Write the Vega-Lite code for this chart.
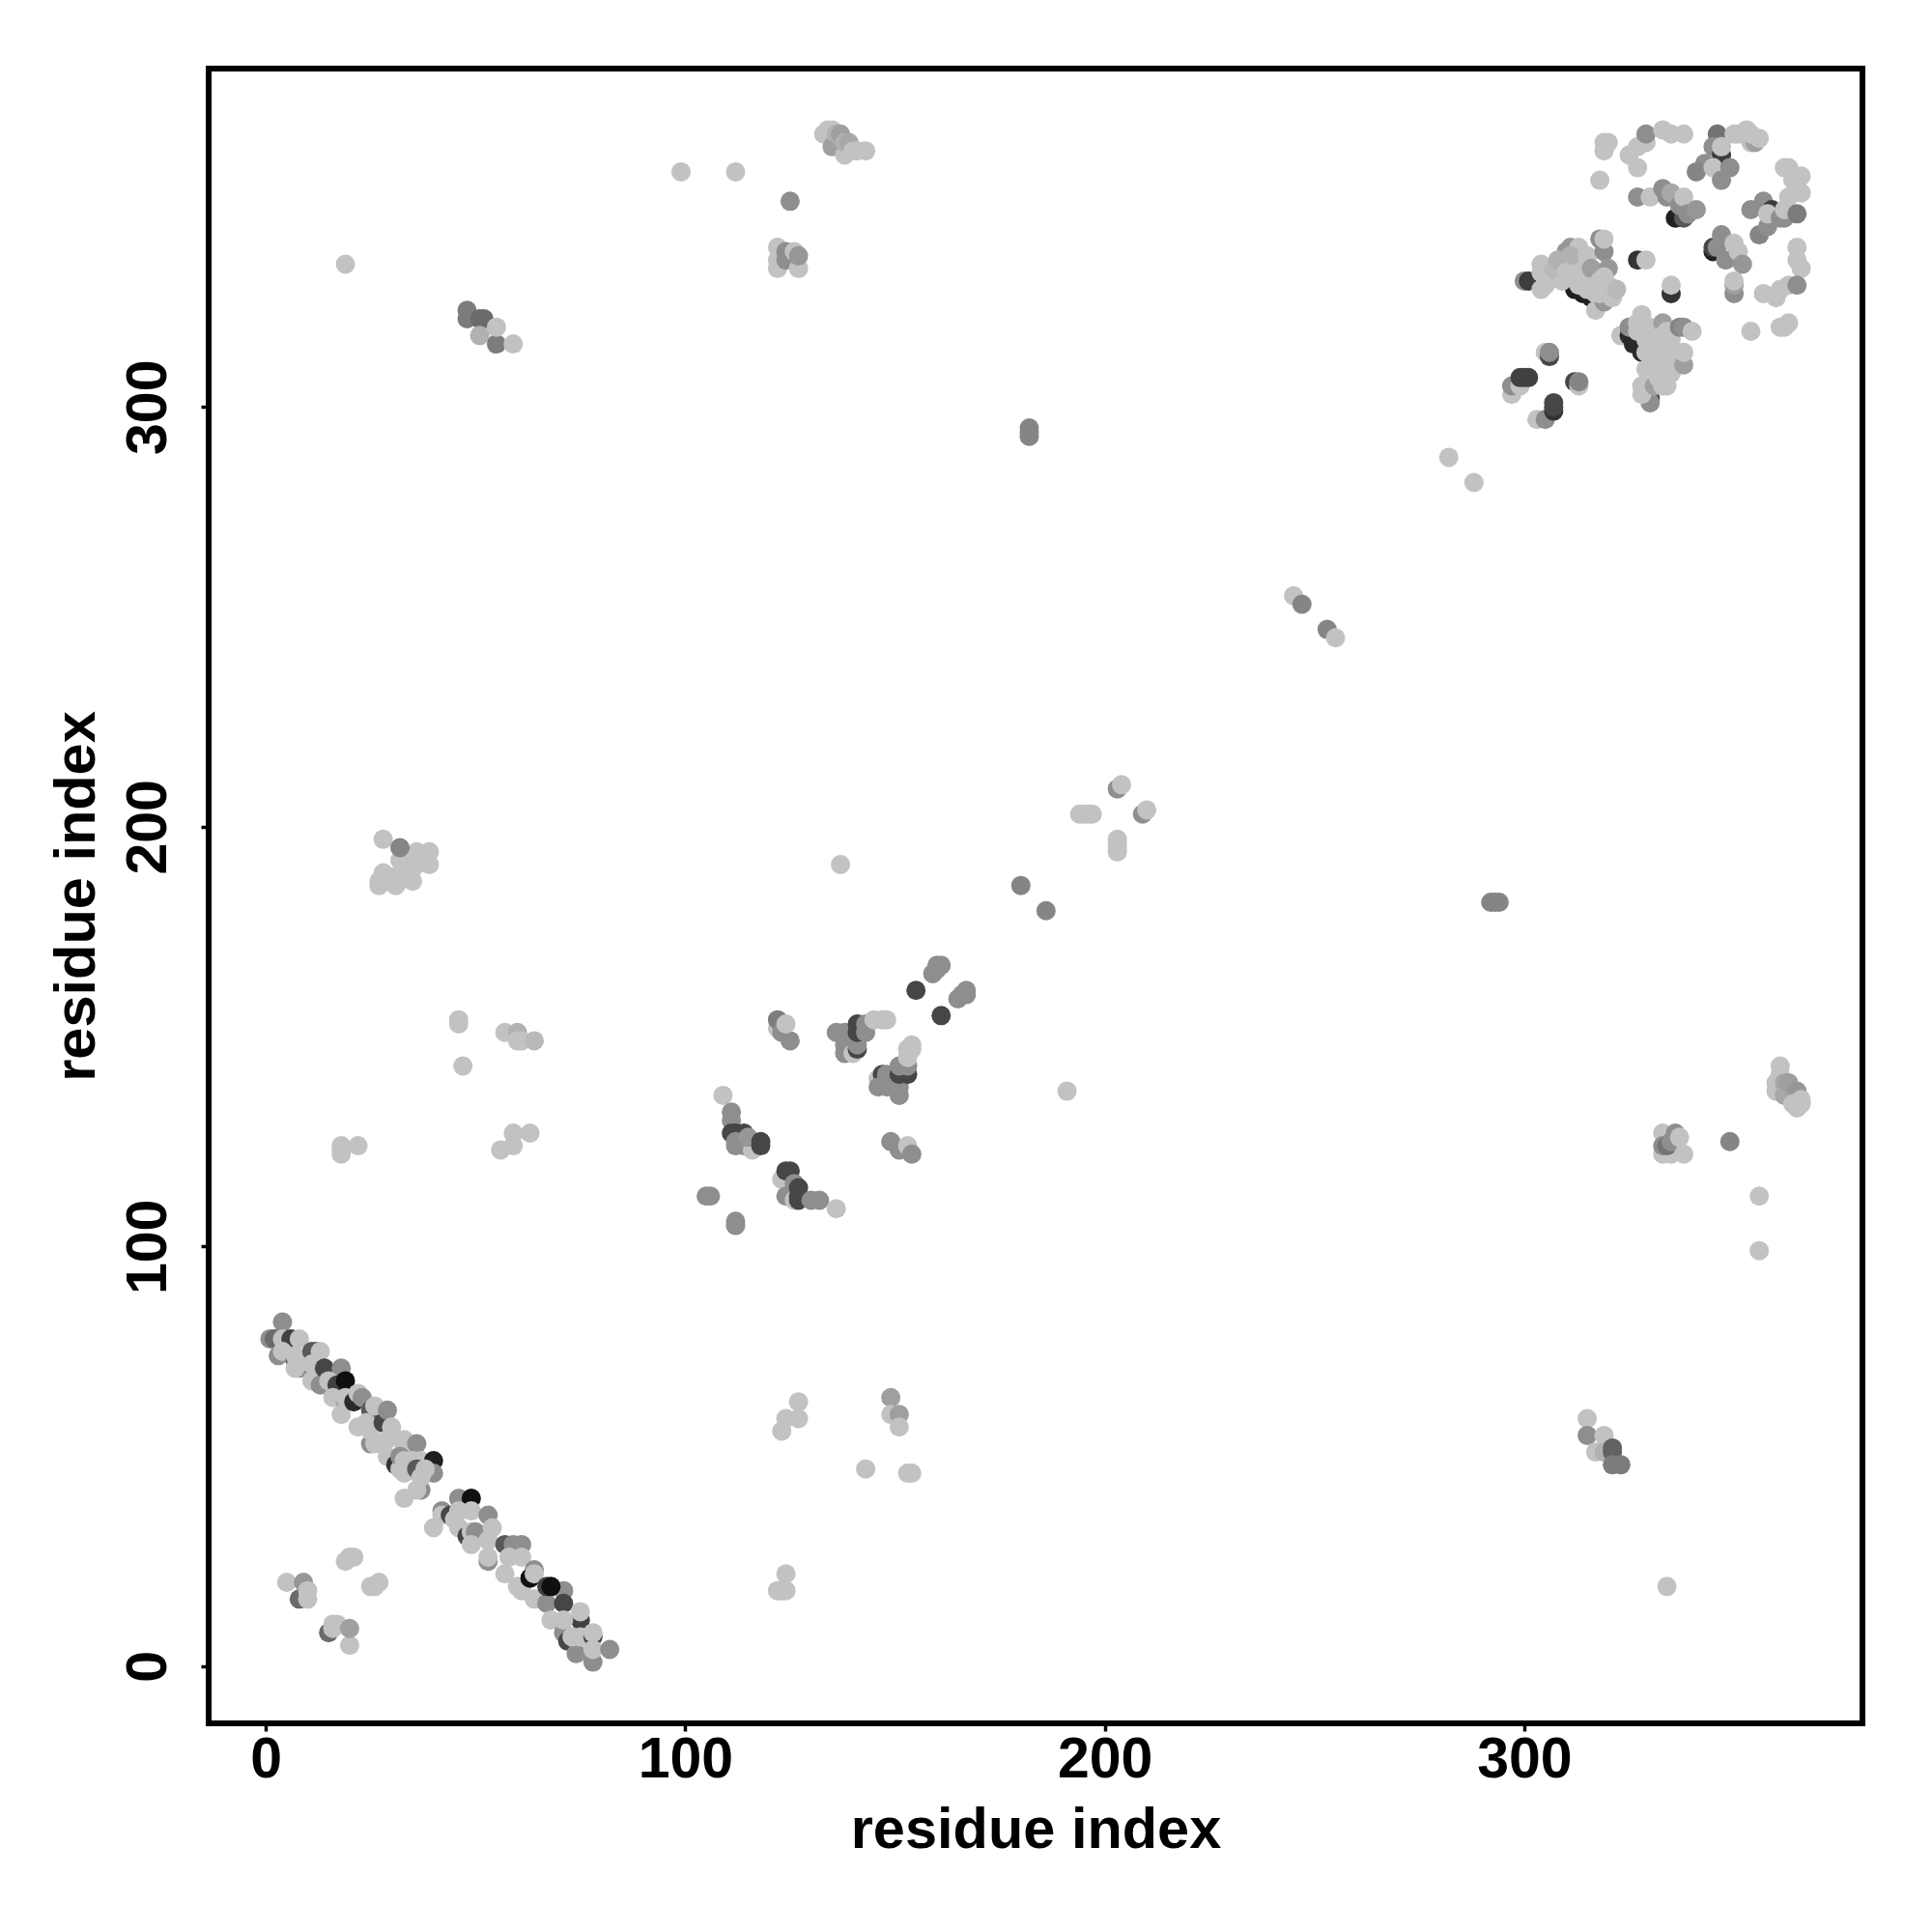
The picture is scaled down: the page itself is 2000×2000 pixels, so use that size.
{"$schema":"https://vega.github.io/schema/vega-lite/v6.json","width":1712,"height":1713,"autosize":"none","padding":{"left":216,"top":71,"right":72,"bottom":216},"background":"white","view":{"stroke":"black","strokeWidth":6,"fill":"white"},
"data":{"values":[
{"x":4,"y":82,"v":0.7},{"x":1,"y":78,"v":0.7},{"x":2,"y":78,"v":0.5},{"x":3,"y":74,"v":0.7},{"x":4,"y":78,"v":1},{"x":6,"y":78,"v":0.27},{"x":8,"y":78,"v":1},{"x":4,"y":75,"v":1},{"x":7,"y":73,"v":0.4},{"x":8,"y":71,"v":0.7},{"x":7,"y":71,"v":1},{"x":7,"y":74,"v":1},{"x":11,"y":75,"v":0.4},{"x":12,"y":75,"v":0.4},{"x":13,"y":75,"v":1},{"x":11,"y":72,"v":1},{"x":11,"y":68,"v":1},{"x":13,"y":67,"v":0.7},{"x":14,"y":71,"v":0.3},{"x":18,"y":71,"v":0.7},{"x":15,"y":68,"v":1},{"x":17,"y":67,"v":0.27},{"x":19,"y":68,"v":0.03},{"x":16,"y":64,"v":1},{"x":19,"y":63,"v":0.8},{"x":19,"y":64,"v":1},{"x":18,"y":60,"v":1},{"x":21,"y":63,"v":0.15},{"x":22,"y":65,"v":1},{"x":23,"y":64,"v":0.7},{"x":22,"y":57,"v":1},{"x":25,"y":61,"v":0.4},{"x":26,"y":62,"v":1},{"x":24,"y":58,"v":1},{"x":25,"y":53,"v":0.7},{"x":26,"y":53,"v":1},{"x":25,"y":56,"v":1},{"x":28,"y":58,"v":0.3},{"x":29,"y":61,"v":0.7},{"x":30,"y":57,"v":1},{"x":29,"y":54,"v":1},{"x":29,"y":50,"v":1},{"x":31,"y":48,"v":0.2},{"x":32,"y":47,"v":1},{"x":33,"y":54,"v":1},{"x":33,"y":52,"v":1},{"x":32,"y":50,"v":0.7},{"x":33,"y":49,"v":1},{"x":33,"y":46,"v":1},{"x":36,"y":53,"v":0.7},{"x":35,"y":49,"v":1},{"x":37,"y":49,"v":1},{"x":36,"y":47,"v":0.4},{"x":40,"y":49,"v":0.1},{"x":40,"y":46,"v":0.7},{"x":37,"y":42,"v":0.7},{"x":36,"y":42,"v":1},{"x":37,"y":45,"v":1},{"x":38,"y":47,"v":1},{"x":33,"y":40,"v":1},
{"x":40,"y":33,"v":1},{"x":42,"y":37,"v":0.7},{"x":42,"y":36,"v":1},{"x":44,"y":36,"v":0.3},{"x":45,"y":35,"v":1},{"x":46,"y":40,"v":0.7},{"x":49,"y":40,"v":0.03},{"x":46,"y":33,"v":1},{"x":46,"y":37,"v":1},{"x":48,"y":31,"v":0.3},{"x":49,"y":32,"v":1},{"x":49,"y":37,"v":1},{"x":50,"y":32,"v":0.7},{"x":49,"y":29,"v":1},{"x":53,"y":36,"v":0.7},{"x":53,"y":25,"v":0.7},{"x":54,"y":33,"v":1},{"x":53,"y":26,"v":1},{"x":53,"y":30,"v":1},{"x":57,"y":29,"v":0.4},{"x":59,"y":29,"v":0.7},{"x":61,"y":29,"v":0.7},{"x":57,"y":22,"v":1},{"x":58,"y":26,"v":1},{"x":61,"y":26,"v":1},{"x":60,"y":19,"v":1},{"x":61,"y":18,"v":1},{"x":64,"y":23,"v":0.7},{"x":63,"y":21,"v":0.03},{"x":64,"y":22,"v":1},{"x":64,"y":16,"v":1},{"x":67,"y":15,"v":0.7},{"x":67,"y":19,"v":0.27},{"x":71,"y":18,"v":0.7},{"x":68,"y":19,"v":0.03},{"x":68,"y":11,"v":1},{"x":71,"y":15,"v":0.3},{"x":71,"y":8,"v":0.7},{"x":72,"y":6,"v":0.3},{"x":75,"y":11,"v":0.27},{"x":71,"y":11,"v":1},{"x":75,"y":13,"v":1},{"x":74,"y":3,"v":0.7},{"x":73,"y":7,"v":1},{"x":75,"y":7,"v":1},{"x":78,"y":7,"v":0.3},{"x":78,"y":8,"v":1},{"x":78,"y":1,"v":0.7},{"x":78,"y":4,"v":1},{"x":82,"y":4,"v":0.7},
{"x":5,"y":20,"v":1},{"x":9,"y":20,"v":0.75},{"x":8,"y":16,"v":0.5},{"x":10,"y":16,"v":1},{"x":10,"y":18,"v":1},{"x":19,"y":25,"v":1},{"x":20,"y":26,"v":1},{"x":21,"y":26,"v":1},{"x":25,"y":19,"v":1},{"x":26,"y":19,"v":1},{"x":27,"y":20,"v":1},{"x":15,"y":8,"v":0.5},{"x":16,"y":10,"v":1},{"x":17,"y":10,"v":1},{"x":16,"y":9,"v":1},{"x":20,"y":5,"v":1},{"x":20,"y":9,"v":0.8},
{"x":109,"y":136,"v":1},{"x":111,"y":132,"v":0.7},{"x":111,"y":130,"v":0.7},{"x":111,"y":127,"v":0.3},{"x":112,"y":127,"v":0.3},{"x":114,"y":127,"v":0.3},{"x":112,"y":125,"v":0.7},{"x":112,"y":124,"v":0.7},{"x":114,"y":124,"v":0.7},{"x":116,"y":123,"v":1},{"x":115,"y":126,"v":0.75},{"x":118,"y":125,"v":0.3},{"x":118,"y":124,"v":0.3},
{"x":123,"y":116,"v":1},{"x":124,"y":118,"v":0.3},{"x":125,"y":118,"v":0.3},{"x":124,"y":112,"v":0.7},{"x":126,"y":115,"v":0.7},{"x":126,"y":111,"v":1},{"x":127,"y":114,"v":0.3},{"x":127,"y":112,"v":0.3},{"x":127,"y":111,"v":0.3},{"x":130,"y":111,"v":0.7},{"x":132,"y":111,"v":0.7},{"x":136,"y":109,"v":1},{"x":105,"y":112,"v":0.7},{"x":106,"y":112,"v":0.7},{"x":112,"y":106,"v":0.7},{"x":112,"y":105,"v":0.7},
{"x":122,"y":152,"v":1},{"x":122,"y":154,"v":0.6},{"x":123,"y":151,"v":0.7},{"x":125,"y":149,"v":0.7},{"x":124,"y":153,"v":1},
{"x":136,"y":151,"v":0.7},{"x":138,"y":151,"v":0.7},{"x":138,"y":148,"v":0.7},{"x":138,"y":146,"v":0.7},{"x":140,"y":146,"v":1},{"x":141,"y":147,"v":0.3},{"x":141,"y":148,"v":0.7},{"x":141,"y":153,"v":0.3},{"x":141,"y":151,"v":0.3},{"x":143,"y":153,"v":0.7},{"x":143,"y":151,"v":0.7},{"x":145,"y":154,"v":1},{"x":147,"y":154,"v":1},{"x":148,"y":154,"v":1},
{"x":146,"y":140,"v":1},{"x":147,"y":141,"v":0.3},{"x":146,"y":138,"v":0.7},{"x":148,"y":141,"v":0.7},{"x":148,"y":138,"v":0.7},{"x":151,"y":136,"v":0.7},{"x":151,"y":138,"v":0.7},{"x":151,"y":141,"v":0.3},{"x":153,"y":141,"v":0.3},{"x":151,"y":143,"v":0.7},{"x":153,"y":143,"v":0.7},{"x":153,"y":145,"v":1},{"x":153,"y":147,"v":1},{"x":154,"y":147,"v":1},{"x":154,"y":148,"v":1},
{"x":149,"y":125,"v":0.7},{"x":151,"y":123,"v":0.7},{"x":153,"y":124,"v":1},{"x":154,"y":122,"v":0.7},{"x":155,"y":161,"v":0.3},{"x":161,"y":155,"v":0.3},{"x":159,"y":165,"v":0.7},{"x":160,"y":166,"v":0.7},{"x":160,"y":167,"v":0.7},{"x":161,"y":167,"v":0.7},{"x":165,"y":159,"v":0.7},{"x":166,"y":160,"v":0.7},{"x":167,"y":161,"v":0.7},{"x":167,"y":160,"v":0.7},
{"x":180,"y":186,"v":0.65},{"x":186,"y":180,"v":0.65},{"x":203,"y":209,"v":0.7},{"x":204,"y":210,"v":1},{"x":209,"y":203,"v":0.7},{"x":210,"y":204,"v":1},{"x":194,"y":203,"v":1},{"x":195,"y":203,"v":1},{"x":196,"y":203,"v":1},{"x":197,"y":203,"v":1},{"x":203,"y":197,"v":1},{"x":203,"y":196,"v":1},{"x":203,"y":195,"v":1},{"x":203,"y":194,"v":1},
{"x":28,"y":197,"v":1},{"x":27,"y":186,"v":1},{"x":27,"y":187,"v":1},{"x":28,"y":189,"v":1},{"x":31,"y":186,"v":1},{"x":31,"y":188,"v":1},{"x":30,"y":188,"v":1},{"x":33,"y":189,"v":1},{"x":32,"y":192,"v":1},{"x":35,"y":187,"v":1},{"x":35,"y":190,"v":1},{"x":36,"y":191,"v":1},{"x":36,"y":194,"v":1},{"x":39,"y":194,"v":1},{"x":39,"y":191,"v":1},{"x":32,"y":195,"v":0.65},
{"x":46,"y":154,"v":1},{"x":46,"y":153,"v":1},{"x":47,"y":143,"v":1},{"x":57,"y":151,"v":1},{"x":60,"y":151,"v":0.9},{"x":60,"y":149,"v":1},{"x":61,"y":149,"v":1},{"x":64,"y":149,"v":0.95},{"x":18,"y":124,"v":1},{"x":18,"y":123,"v":1},{"x":18,"y":122,"v":1},{"x":22,"y":124,"v":1},{"x":59,"y":127,"v":1},{"x":63,"y":127,"v":1},{"x":59,"y":124,"v":1},{"x":56,"y":123,"v":1},
{"x":112,"y":356,"v":1},{"x":99,"y":356,"v":1},{"x":125,"y":349,"v":0.7},{"x":122,"y":338,"v":1},{"x":122,"y":335,"v":1},{"x":122,"y":333,"v":1},{"x":124,"y":337,"v":0.7},{"x":124,"y":335,"v":0.7},{"x":126,"y":337,"v":1},{"x":127,"y":333,"v":1},{"x":127,"y":336,"v":0.75},
{"x":133,"y":365,"v":1},{"x":134,"y":366,"v":1},{"x":135,"y":366,"v":1},{"x":135,"y":362,"v":0.8},{"x":136,"y":365,"v":0.9},{"x":137,"y":365,"v":0.8},{"x":138,"y":360,"v":1},{"x":138,"y":363,"v":0.9},{"x":139,"y":363,"v":0.85},{"x":140,"y":361,"v":1},{"x":141,"y":361,"v":1},{"x":143,"y":361,"v":1},
{"x":349,"y":125,"v":0.65},{"x":356,"y":112,"v":1},{"x":356,"y":99,"v":1},{"x":333,"y":127,"v":1},{"x":333,"y":122,"v":1},{"x":335,"y":122,"v":1},{"x":336,"y":127,"v":0.7},{"x":333,"y":124,"v":0.7},{"x":334,"y":124,"v":0.55},{"x":335,"y":125,"v":0.7},{"x":338,"y":122,"v":1},{"x":337,"y":126,"v":1},
{"x":361,"y":143,"v":1},{"x":361,"y":141,"v":1},{"x":360,"y":139,"v":1},{"x":360,"y":137,"v":1},{"x":362,"y":139,"v":0.85},{"x":362,"y":136,"v":0.85},{"x":363,"y":139,"v":0.8},{"x":365,"y":137,"v":0.75},{"x":364,"y":134,"v":1},{"x":365,"y":133,"v":1},{"x":366,"y":134,"v":1},{"x":366,"y":135,"v":1},
{"x":127,"y":63,"v":1},{"x":127,"y":59,"v":1},{"x":124,"y":59,"v":1},{"x":123,"y":56,"v":1},{"x":149,"y":64,"v":0.8},{"x":149,"y":60,"v":1},{"x":151,"y":60,"v":0.8},{"x":151,"y":57,"v":1},{"x":143,"y":47,"v":1},{"x":153,"y":46,"v":1},{"x":154,"y":46,"v":1},{"x":124,"y":22,"v":1},{"x":122,"y":18,"v":1},{"x":123,"y":18,"v":1},{"x":124,"y":18,"v":1},
{"x":19,"y":334,"v":1},{"x":334,"y":19,"v":1},{"x":191,"y":137,"v":1},{"x":137,"y":191,"v":1},{"x":182,"y":295,"v":0.65},{"x":182,"y":294,"v":0.65},{"x":182,"y":293,"v":0.65},{"x":292,"y":182,"v":0.65},{"x":293,"y":182,"v":0.65},{"x":294,"y":182,"v":0.65},{"x":282,"y":288,"v":1},{"x":288,"y":282,"v":1},{"x":245,"y":255,"v":1},{"x":247,"y":253,"v":0.65},{"x":253,"y":247,"v":0.65},{"x":255,"y":245,"v":1},
{"x":48,"y":323,"v":0.6},{"x":48,"y":321,"v":0.6},{"x":52,"y":319,"v":1},{"x":51,"y":321,"v":0.5},{"x":52,"y":321,"v":0.5},{"x":51,"y":317,"v":0.9},{"x":55,"y":315,"v":0.6},{"x":55,"y":319,"v":1},{"x":59,"y":315,"v":1},
{"x":315,"y":59,"v":1},{"x":315,"y":55,"v":0.7},{"x":319,"y":55,"v":1},{"x":317,"y":51,"v":1},{"x":319,"y":51,"v":0.9},{"x":321,"y":52,"v":0.45},{"x":321,"y":51,"v":0.45},{"x":321,"y":48,"v":0.6},{"x":323,"y":48,"v":0.6},
{"x":303,"y":297,"v":1},{"x":305,"y":297,"v":0.7},{"x":307,"y":299,"v":0.2},{"x":307,"y":300,"v":0.3},{"x":307,"y":301,"v":0.3},{"x":297,"y":303,"v":1},{"x":297,"y":305,"v":0.7},{"x":299,"y":305,"v":1},{"x":299,"y":307,"v":0.27},{"x":300,"y":307,"v":0.27},{"x":301,"y":307,"v":0.27},{"x":305,"y":313,"v":1},{"x":306,"y":312,"v":0.3},{"x":306,"y":313,"v":0.7},{"x":312,"y":306,"v":0.3},{"x":313,"y":305,"v":1},{"x":313,"y":306,"v":0.65},
{"x":300,"y":330,"v":0.7},{"x":301,"y":330,"v":0.25},{"x":312,"y":328,"v":0.1},{"x":314,"y":327,"v":0.1},{"x":316,"y":326,"v":0.1},{"x":304,"y":328,"v":1},{"x":305,"y":331,"v":0.75},{"x":304,"y":334,"v":1},{"x":304,"y":332,"v":1},{"x":305,"y":329,"v":1},{"x":310,"y":337,"v":0.75},{"x":311,"y":338,"v":0.75},{"x":309,"y":330,"v":1},{"x":313,"y":338,"v":1},{"x":313,"y":335,"v":1},{"x":312,"y":333,"v":1},{"x":314,"y":332,"v":1},{"x":307,"y":333,"v":0.95},{"x":308,"y":335,"v":0.9},{"x":311,"y":336,"v":0.9},{"x":310,"y":332,"v":1},{"x":313,"y":329,"v":1},{"x":315,"y":328,"v":1},{"x":317,"y":327,"v":1},{"x":315,"y":336,"v":1},{"x":315,"y":330,"v":1},{"x":317,"y":323,"v":1},{"x":316,"y":333,"v":0.8},{"x":318,"y":340,"v":0.7},{"x":319,"y":337,"v":0.7},{"x":319,"y":340,"v":1},{"x":320,"y":333,"v":0.75},{"x":319,"y":325,"v":0.75},{"x":318,"y":327,"v":1},{"x":319,"y":331,"v":1},{"x":318,"y":330,"v":1},{"x":320,"y":329,"v":1},{"x":321,"y":326,"v":1},{"x":322,"y":328,"v":0.95},
{"x":327,"y":335,"v":0.2},{"x":329,"y":335,"v":1},{"x":335,"y":327,"v":0.2},{"x":335,"y":329,"v":1},
{"x":323,"y":317,"v":1},{"x":325,"y":317,"v":0.15},{"x":326,"y":315,"v":0.15},{"x":328,"y":313,"v":0.15},{"x":325,"y":319,"v":0.7},{"x":327,"y":318,"v":1},{"x":329,"y":316,"v":1},{"x":330,"y":314,"v":1},{"x":327,"y":320,"v":1},{"x":328,"y":322,"v":1},{"x":330,"y":319,"v":1},{"x":331,"y":316,"v":1},{"x":329,"y":313,"v":1},{"x":331,"y":313,"v":1},{"x":329,"y":309,"v":1},{"x":331,"y":310,"v":1},{"x":333,"y":320,"v":0.8},{"x":333,"y":317,"v":1},{"x":334,"y":318,"v":1},{"x":333,"y":314,"v":1},{"x":332,"y":312,"v":1},{"x":334,"y":311,"v":1},{"x":336,"y":313,"v":1},{"x":336,"y":310,"v":1},{"x":330,"y":302,"v":0.25},{"x":330,"y":301,"v":0.7},{"x":328,"y":303,"v":1},{"x":328,"y":305,"v":1},{"x":331,"y":305,"v":0.8},{"x":332,"y":307,"v":1},{"x":333,"y":305,"v":1},{"x":334,"y":305,"v":1},{"x":335,"y":308,"v":1},{"x":335,"y":316,"v":1},{"x":337,"y":319,"v":0.65},{"x":338,"y":319,"v":0.7},{"x":338,"y":310,"v":0.8},{"x":338,"y":313,"v":1},{"x":340,"y":318,"v":1},
{"x":319,"y":363,"v":1},{"x":319,"y":361,"v":1},{"x":320,"y":363,"v":1},{"x":318,"y":354,"v":1},{"x":325,"y":360,"v":1},{"x":327,"y":362,"v":1},{"x":327,"y":357,"v":1},{"x":329,"y":363,"v":1},{"x":329,"y":365,"v":0.7},{"x":333,"y":366,"v":1},{"x":335,"y":365,"v":1},{"x":338,"y":365,"v":1},
{"x":327,"y":350,"v":0.7},{"x":330,"y":350,"v":1},{"x":336,"y":345,"v":0.1},{"x":338,"y":345,"v":0.4},{"x":333,"y":352,"v":0.7},{"x":334,"y":350,"v":0.7},{"x":335,"y":351,"v":0.85},{"x":337,"y":348,"v":0.7},{"x":338,"y":350,"v":1},{"x":339,"y":346,"v":0.7},{"x":341,"y":347,"v":0.75},
{"x":346,"y":365,"v":0.55},{"x":345,"y":362,"v":0.7},{"x":347,"y":360,"v":0.25},{"x":343,"y":358,"v":0.7},{"x":341,"y":356,"v":0.65},{"x":345,"y":357,"v":1},{"x":347,"y":354,"v":0.7},{"x":349,"y":357,"v":0.7},{"x":347,"y":362,"v":1},{"x":350,"y":365,"v":1},{"x":351,"y":365,"v":1},{"x":353,"y":366,"v":1},{"x":354,"y":363,"v":1},{"x":355,"y":363,"v":0.8},{"x":354,"y":365,"v":1},{"x":356,"y":364,"v":1},
{"x":354,"y":347,"v":0.7},{"x":357,"y":349,"v":0.7},{"x":356,"y":341,"v":0.65},{"x":359,"y":347,"v":0.25},{"x":358,"y":343,"v":0.7},{"x":358,"y":346,"v":1},{"x":361,"y":345,"v":0.7},{"x":362,"y":345,"v":0.7},{"x":362,"y":347,"v":1},{"x":362,"y":357,"v":1},{"x":363,"y":357,"v":1},{"x":364,"y":354,"v":1},{"x":366,"y":355,"v":1},{"x":365,"y":353,"v":1},{"x":366,"y":351,"v":1},{"x":363,"y":350,"v":1},{"x":365,"y":346,"v":0.6},
{"x":345,"y":337,"v":0.1},{"x":345,"y":338,"v":0.3},{"x":347,"y":341,"v":0.7},{"x":346,"y":338,"v":0.7},{"x":350,"y":339,"v":1},{"x":348,"y":335,"v":0.7},{"x":351,"y":337,"v":1},{"x":352,"y":334,"v":0.75},{"x":350,"y":327,"v":0.7},{"x":350,"y":329,"v":0.8},{"x":350,"y":330,"v":1},
{"x":365,"y":338,"v":1},{"x":365,"y":335,"v":1},{"x":366,"y":333,"v":1},{"x":357,"y":327,"v":1},{"x":360,"y":326,"v":1},{"x":361,"y":328,"v":1},{"x":363,"y":329,"v":1},{"x":365,"y":329,"v":0.7},{"x":354,"y":318,"v":1},{"x":361,"y":319,"v":1},{"x":362,"y":319,"v":1},{"x":363,"y":320,"v":1}
]},
"mark":{"type":"circle","size":400,"opacity":1},
"encoding":{
"x":{"field":"x","type":"quantitative","scale":{"domain":[-13.6,380.6],"nice":false,"zero":false},"axis":{"values":[0,100,200,300],"title":"residue index","grid":false,"domain":false,"ticks":true,"tickSize":8,"tickWidth":3.5,"tickColor":"black","labelFont":"Liberation Sans","labelFontWeight":"bold","labelFontSize":59,"labelColor":"black","labelPadding":0,"labelFlush":false,"titleFont":"Liberation Sans","titleFontWeight":"bold","titleFontSize":59.5,"titleColor":"black","titlePadding":14}},
"y":{"field":"y","type":"quantitative","scale":{"domain":[-13.6,380.6],"nice":false,"zero":false},"axis":{"values":[0,100,200,300],"title":"residue index","grid":false,"domain":false,"ticks":true,"tickSize":8,"tickWidth":3.5,"tickColor":"black","labelFont":"Liberation Sans","labelFontWeight":"bold","labelFontSize":59,"labelColor":"black","labelAngle":-90,"labelAlign":"center","labelBaseline":"bottom","labelPadding":24.5,"labelFlush":false,"titleFont":"Liberation Sans","titleFontWeight":"bold","titleFontSize":59.5,"titleColor":"black","titlePadding":15}},
"color":{"field":"v","type":"quantitative","scale":{"type":"pow","exponent":0.8,"domain":[0,1],"range":["#000000","#c2c2c2"]},"legend":null}
}}
